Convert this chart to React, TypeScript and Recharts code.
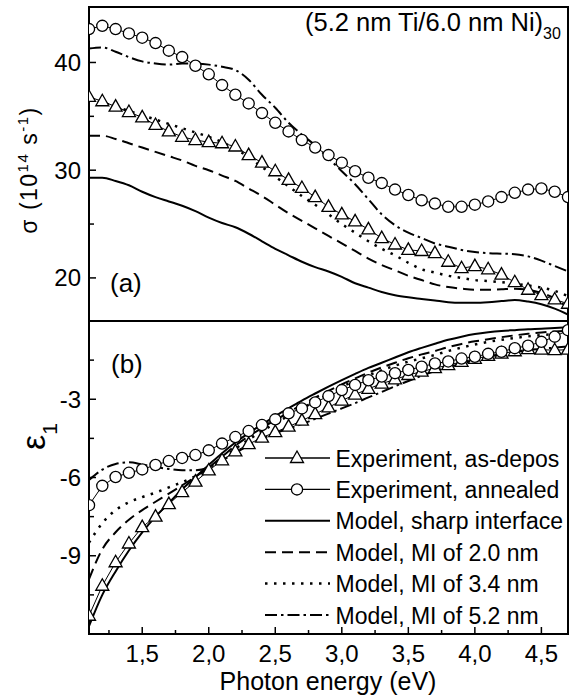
import React from "react";
import {
  LineChart,
  Line,
  XAxis,
  YAxis,
  ReferenceArea,
  Legend,
  Customized,
} from "recharts";

// photon energy (eV), one point every 0.1 eV
const energy = [
  1.1, 1.2, 1.3, 1.4, 1.5, 1.6, 1.7, 1.8, 1.9, 2.0, 2.1, 2.2, 2.3, 2.4, 2.5,
  2.6, 2.7, 2.8, 2.9, 3.0, 3.1, 3.2, 3.3, 3.4, 3.5, 3.6, 3.7, 3.8, 3.9, 4.0,
  4.1, 4.2, 4.3, 4.4, 4.5, 4.6, 4.7,
];

// (a) sigma, 10^14 s^-1
const sigmaAsDep = [
  36.8, 36.4, 35.9, 35.4, 34.9, 34.2, 33.6, 33.1, 32.8, 32.6, 32.5, 32.2, 31.4,
  30.7, 29.9, 29.1, 28.35, 27.5, 26.6, 25.9, 25.25, 24.5, 23.7, 23.1, 22.6,
  22.5, 22.3, 21.5, 20.9, 21.1, 20.8, 20.3, 19.6, 18.9, 18.4, 18.0, 17.6,
];
const sigmaAnnealed = [
  43.1, 43.4, 43.1, 42.7, 42.3, 41.8, 41.1, 40.5, 39.7, 38.9, 37.9, 37.0, 36.2,
  35.3, 34.4, 33.6, 32.8, 32.1, 31.4, 30.7, 29.9, 29.3, 28.8, 28.2, 27.7, 27.2,
  26.9, 26.6, 26.6, 26.8, 27.1, 27.5, 27.9, 28.2, 28.3, 28.0, 27.5,
];
const sigmaSharp = [
  29.3, 29.3, 29.0, 28.6, 28.0, 27.5, 27.1, 26.7, 26.2, 25.6, 25.1, 24.7, 24.1,
  23.4, 22.7, 22.1, 21.5, 21.0, 20.6, 20.1, 19.5, 19.1, 18.7, 18.4, 18.2,
  18.05, 17.9, 17.75, 17.7, 17.7, 17.75, 17.85, 17.95, 17.8, 17.55, 17.15, 16.6,
];
const sigmaMI20 = [
  33.2, 33.2, 32.9, 32.5, 32.1, 31.7, 31.3, 30.9, 30.4, 30.0, 29.5, 29.0, 28.3,
  27.6, 26.8, 26.0, 25.3, 24.6, 23.9, 23.2, 22.5, 21.8, 21.2, 20.7, 20.2, 19.8,
  19.4, 19.15, 19.0, 18.9, 18.9, 18.95, 19.0, 18.9, 18.6, 18.1, 17.2,
];
const sigmaMI34 = [
  36.6, 36.3, 35.9, 35.5, 35.1, 34.7, 34.3, 33.9, 33.5, 33.1, 32.6, 32.0, 31.2,
  30.3, 29.4, 28.5, 27.6, 26.8, 25.9, 25.0, 24.2, 23.4, 22.7, 22.1, 21.4, 20.8,
  20.5, 20.2, 20.0, 19.8, 19.7, 19.6, 19.45, 19.3, 19.1, 18.8, 18.3,
];
const sigmaMI52 = [
  41.3, 41.4, 41.0, 40.5, 40.1, 39.9, 39.8, 39.9, 39.9, 39.8, 39.6, 39.3, 38.4,
  37.0, 35.8, 34.4, 33.3, 32.3, 31.1, 29.9, 28.7, 27.3, 25.9, 24.9, 24.2, 23.7,
  23.2, 22.9, 22.6, 22.4, 22.3, 22.25, 22.2, 22.0, 21.6, 21.1, 20.6,
];

// (b) epsilon_1
const epsAsDep = [
  -11.3, -10.15, -9.25, -8.53, -7.9, -7.5, -7.02, -6.56, -6.16, -5.73, -5.34,
  -5.0, -4.72, -4.47, -4.26, -4.05, -3.82, -3.57, -3.31, -3.05, -2.82, -2.6,
  -2.4, -2.24, -2.07, -1.94, -1.81, -1.69, -1.57, -1.45, -1.34, -1.25, -1.16,
  -1.08, -1.1, -1.12, -1.1,
];
const epsAnnealed = [
  -7.06, -6.32, -5.98, -5.82, -5.69, -5.52, -5.37, -5.25, -5.14, -4.96, -4.7,
  -4.45, -4.22, -3.99, -3.77, -3.54, -3.35, -3.12, -2.88, -2.65, -2.45, -2.27,
  -2.13, -2.0, -1.88, -1.75, -1.63, -1.55, -1.44, -1.37, -1.26, -1.18, -1.04,
  -0.95, -0.8, -0.6, -0.35,
];
const epsSharp = [
  -11.7, -10.5, -9.6, -8.8, -8.1, -7.5, -6.98, -6.45, -5.98, -5.52, -5.07,
  -4.66, -4.3, -3.97, -3.65, -3.35, -3.05, -2.78, -2.52, -2.27, -2.03, -1.8,
  -1.6, -1.4, -1.2, -1.03, -0.87, -0.72, -0.6, -0.5, -0.43, -0.38, -0.35,
  -0.32, -0.3, -0.27, -0.24,
];
const epsMI20 = [
  -9.9, -8.75, -8.1, -7.62, -7.25, -6.93, -6.62, -6.3, -5.97, -5.62, -5.2,
  -4.78, -4.42, -4.1, -3.8, -3.5, -3.21, -2.94, -2.68, -2.43, -2.2, -1.98,
  -1.78, -1.6, -1.43, -1.28, -1.15, -1.0, -0.88, -0.78, -0.7, -0.62, -0.55,
  -0.49, -0.44, -0.4, -0.37,
];
const epsMI34 = [
  -8.5, -7.75, -7.25, -6.95, -6.75, -6.58, -6.38, -6.18, -5.95, -5.65, -5.28,
  -4.9, -4.55, -4.22, -3.92, -3.63, -3.35, -3.08, -2.8, -2.52, -2.29, -2.08,
  -1.89, -1.71, -1.56, -1.43, -1.3, -1.15, -1.02, -0.9, -0.8, -0.72, -0.65,
  -0.59, -0.54, -0.5, -0.46,
];
const epsMI52 = [
  -6.1, -5.7, -5.48, -5.42, -5.5, -5.6, -5.67, -5.72, -5.72, -5.62, -5.35,
  -5.05, -4.78, -4.52, -4.3, -4.12, -3.95, -3.75, -3.55, -3.35, -3.15, -2.93,
  -2.72, -2.5, -2.3, -2.1, -1.92, -1.77, -1.63, -1.5, -1.38, -1.28, -1.19,
  -1.12, -1.06, -1.02, -0.98,
];

const xTicks = [1.25, 1.5, 1.75, 2.0, 2.25, 2.5, 2.75, 3.0, 3.25, 3.5, 3.75, 4.0, 4.25, 4.5];
const sigmaTicks = [20, 25, 30, 35, 40];
const sigmaLabelTicks = [20, 30, 40];
const epsTicks = [-10.5, -9, -7.5, -6, -4.5, -3, -1.5];
const epsLabelTicks = [-9, -6, -3];

// legend texts as far as the figure shows them
const seriesNames = [
  "Experiment, as-depos",
  "Experiment, annealed",
  "Model, sharp interface",
  "Model, MI of 2.0 nm",
  "Model, MI of 3.4 nm",
  "Model, MI of 5.2 nm",
];

const FONT = '"Liberation Sans", Arial, Helvetica, sans-serif';

const topData = energy.map((e, i) => ({
  e,
  asDep: sigmaAsDep[i],
  annealed: sigmaAnnealed[i],
  sharp: sigmaSharp[i],
  mi20: sigmaMI20[i],
  mi34: sigmaMI34[i],
  mi52: sigmaMI52[i],
}));

const bottomData = energy.map((e, i) => ({
  e,
  asDep: epsAsDep[i],
  annealed: epsAnnealed[i],
  sharp: epsSharp[i],
  mi20: epsMI20[i],
  mi34: epsMI34[i],
  mi52: epsMI52[i],
}));

// line styles for the model curves
const modelStyles = [
  { key: "sharp", dash: undefined, width: 2 },
  { key: "mi20", dash: "11 6", width: 2 },
  { key: "mi34", dash: "2.5 6.5", width: 2.5 },
  { key: "mi52", dash: "12 4 2.5 4", width: 2 },
];

const isMajorX = (v: number) => Math.abs(v * 2 - Math.round(v * 2)) < 1e-6;
const fmtX = (v: number) => v.toFixed(1).replace(".", ",");

const Triangle = (p: any) => {
  const { cx, cy, index } = p;
  if (cx == null || cy == null) return <g key={`t${index}`} />;
  return (
    <path
      key={`t${index}`}
      d={`M${cx} ${cy - 7}L${cx + 6.5} ${cy + 4.5}L${cx - 6.5} ${cy + 4.5}Z`}
      fill="#fff"
      stroke="#000"
      strokeWidth={1.3}
    />
  );
};

const circleDot = { r: 5.6, fill: "#fff", stroke: "#000", strokeWidth: 1.3 };

// ticks point inwards, minor ones are shorter
const XTickTop = (p: any) => {
  const v = p.payload.value;
  const len = isMajorX(v) ? 7 : 4;
  return <line x1={p.x} x2={p.x} y1={p.y} y2={p.y - len} stroke="#000" strokeWidth={1.5} />;
};

const XTickBottom = (p: any) => {
  const v = p.payload.value;
  const major = isMajorX(v);
  return (
    <g>
      <line x1={p.x} x2={p.x} y1={p.y} y2={p.y - (major ? 7 : 4)} stroke="#000" strokeWidth={1.5} />
      {major && (
        <text x={p.x} y={p.y + 28} textAnchor="middle" fontSize={24} fontFamily={FONT} fill="#000">
          {fmtX(v)}
        </text>
      )}
    </g>
  );
};

const makeYTick = (labelled: number[]) => (p: any) => {
  const v = p.payload.value;
  const major = labelled.includes(v);
  return (
    <g>
      <line x1={p.x} x2={p.x + (major ? 7 : 5)} y1={p.y} y2={p.y} stroke="#000" strokeWidth={1.5} />
      {major && (
        <text x={p.x - 8} y={p.y + 8.5} textAnchor="end" fontSize={24} fontFamily={FONT} fill="#000">
          {String(v)}
        </text>
      )}
    </g>
  );
};
const SigmaTick = makeYTick(sigmaLabelTicks);
const EpsTick = makeYTick(epsLabelTicks);

const TopText = () => (
  <g fontFamily={FONT} fill="#000">
    <text x={305} y={31} fontSize={25.5}>
      (5.2 nm Ti/6.0 nm Ni)
      <tspan fontSize={16} dy={8}>30</tspan>
    </text>
    <text x={110} y={292} fontSize={26}>(a)</text>
    <text transform="translate(37,170) rotate(-90)" textAnchor="middle" fontSize={23} letterSpacing={1.5}>
      σ (10<tspan dy={-9} fontSize={15}>14</tspan>
      <tspan dy={9}> s</tspan>
      <tspan dy={-9} fontSize={15}>-1</tspan>
      <tspan dy={9}>)</tspan>
    </text>
  </g>
);

const BottomText = () => (
  <g fontFamily={FONT} fill="#000">
    <text x={111} y={52} fontSize={26}>(b)</text>
    <text transform="translate(45,129) rotate(-90)" fontSize={34}>
      ε<tspan dy={12} fontSize={21}>1</tspan>
    </text>
    <text x={328} y={369} textAnchor="middle" fontSize={25}>Photon energy (eV)</text>
  </g>
);

const LegendBox = () => (
  <svg width={307} height={200} style={{ display: "block" }}>
    {seriesNames.map((name, i) => {
      const cy = 17 + i * 31.4;
      const model = i >= 2 ? modelStyles[i - 2] : null;
      return (
        <g key={name}>
          <line
            x1={3}
            x2={68}
            y1={cy}
            y2={cy}
            stroke="#000"
            strokeWidth={model ? model.width : 1.3}
            strokeDasharray={model ? model.dash : undefined}
          />
          {i === 0 && (
            <path d={`M35 ${cy - 7}L41.5 ${cy + 4.5}L28.5 ${cy + 4.5}Z`} fill="#fff" stroke="#000" strokeWidth={1.3} />
          )}
          {i === 1 && <circle cx={35} cy={cy} r={5.6} fill="#fff" stroke="#000" strokeWidth={1.3} />}
          <text x={73.5} y={cy + 8.5} fontSize={23} fontFamily={FONT} fill="#000">
            {name}
          </text>
        </g>
      );
    })}
  </svg>
);

const renderModels = () =>
  modelStyles.map((s) => (
    <Line
      key={s.key}
      type="monotone"
      dataKey={s.key}
      stroke="#000"
      strokeWidth={s.width}
      strokeDasharray={s.dash}
      dot={false}
      isAnimationActive={false}
    />
  ));

const App: React.FC = () => {
  return (
    <div style={{ position: "absolute", left: 0, top: 0, width: 569, height: 696, background: "#fff" }}>
      {/* (a) conductivity */}
      <div style={{ position: "absolute", left: 0, top: 0 }}>
        <LineChart width={569} height={321} data={topData} margin={{ top: 7, right: 1, bottom: 0, left: 0 }}>
          <XAxis
            dataKey="e"
            type="number"
            domain={[1.1, 4.7]}
            allowDataOverflow
            ticks={xTicks}
            interval={0}
            height={0}
            tickSize={0}
            tickMargin={0}
            axisLine={false}
            tick={<XTickTop />}
          />
          <YAxis
            type="number"
            domain={[16, 45.15]}
            allowDataOverflow
            ticks={sigmaTicks}
            interval={0}
            width={89}
            tickSize={0}
            tickMargin={0}
            axisLine={false}
            tick={<SigmaTick />}
          />
          {renderModels()}
          <Line type="linear" dataKey="asDep" stroke="#000" strokeWidth={1} dot={Triangle} isAnimationActive={false} />
          <Line type="linear" dataKey="annealed" stroke="#000" strokeWidth={1} dot={circleDot} isAnimationActive={false} />
          <ReferenceArea x1={1.1} x2={4.7} y1={16} y2={45.15} fill="none" stroke="#000" strokeWidth={2} />
          <Customized component={TopText} />
        </LineChart>
      </div>

      {/* (b) epsilon_1 */}
      <div style={{ position: "absolute", left: 0, top: 321 }}>
        <LineChart width={569} height={375} data={bottomData} margin={{ top: 0, right: 1, bottom: 0, left: 0 }}>
          <XAxis
            dataKey="e"
            type="number"
            domain={[1.1, 4.7]}
            allowDataOverflow
            ticks={xTicks}
            interval={0}
            height={62}
            tickSize={0}
            tickMargin={0}
            axisLine={false}
            tick={<XTickBottom />}
          />
          <YAxis
            type="number"
            domain={[-12, 0]}
            allowDataOverflow
            ticks={epsTicks}
            interval={0}
            width={89}
            tickSize={0}
            tickMargin={0}
            axisLine={false}
            tick={<EpsTick />}
          />
          {renderModels()}
          <Line type="linear" dataKey="asDep" stroke="#000" strokeWidth={1} dot={Triangle} isAnimationActive={false} />
          <Line type="linear" dataKey="annealed" stroke="#000" strokeWidth={1} dot={circleDot} isAnimationActive={false} />
          <ReferenceArea x1={1.1} x2={4.7} y1={-12} y2={0} fill="none" stroke="#000" strokeWidth={2} />
          <Legend
            verticalAlign="middle"
            align="center"
            content={LegendBox}
            wrapperStyle={{ left: 262, top: 120, width: 307, height: 200 }}
          />
          <Customized component={BottomText} />
        </LineChart>
      </div>
    </div>
  );
};

export default App;
